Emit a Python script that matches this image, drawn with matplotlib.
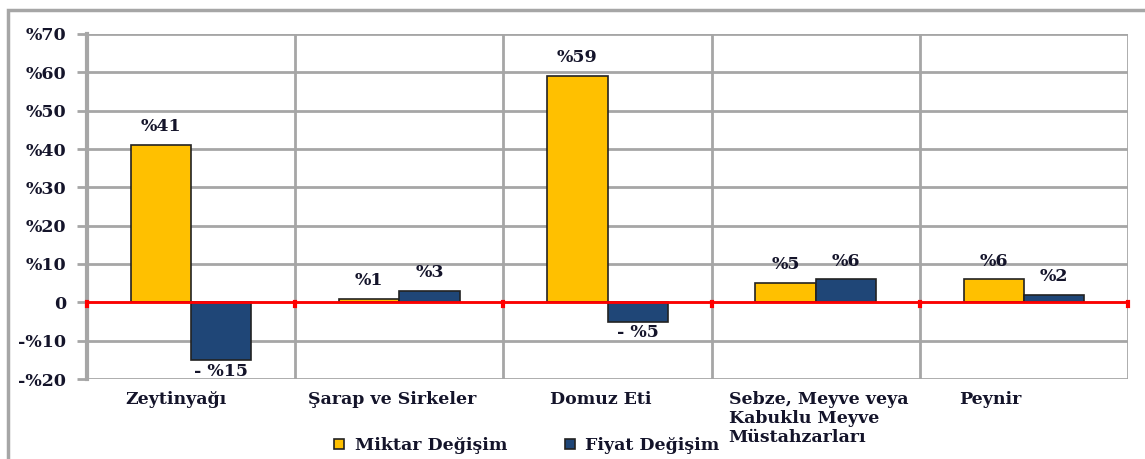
import matplotlib
matplotlib.use("Agg")
import matplotlib.pyplot as plt
from matplotlib.patches import Rectangle
import numpy as np

categories = ["Zeytinyağı", "Şarap ve Sirkeler", "Domuz Eti",
              "Sebze, Meyve veya\nKabuklu Meyve\nMüstahzarları", "Peynir"]
miktar = [41, 1, 59, 5, 6]
fiyat = [-15, 3, -5, 6, 2]
miktar_labels = ["%41", "%1", "%59", "%5", "%6"]
fiyat_labels = ["- %15", "%3", "- %5", "%6", "%2"]
yticks = [-20, -10, 0, 10, 20, 30, 40, 50, 60, 70]
ytick_labels = ["-%20", "-%10", "0", "%10", "%20", "%30", "%40", "%50", "%60", "%70"]
series_names = ["Miktar Değişim", "Fiyat Değişim"]

plt.rcParams['font.family'] = ['DejaVu Serif']
plt.rcParams['font.weight'] = 'bold'
txt = '#14142a'
grid = '#a6a6a6'
FS = 12.5

fig = plt.figure(figsize=(11.45, 4.59), dpi=100)
ax = fig.add_axes([87/1145, 1-379/459, (1128-87)/1145, (379-34)/459])

# outer frame
fig.patches.append(Rectangle((8/1145, -0.05), 1.2, 1-10/459+0.05, transform=fig.transFigure,
                             fill=False, edgecolor=grid, lw=2.5, clip_on=False))

x = np.arange(len(categories))
w = 0.29
b1 = ax.bar(x - w/2, miktar, w, color='#FFC000', edgecolor='#222222', lw=1.2, zorder=3,
            label=series_names[0])
b2 = ax.bar(x + w/2, fiyat, w, color='#1F4677', edgecolor='#222222', lw=1.2, zorder=3,
            label=series_names[1])

for i in range(len(categories)):
    for xv, v, lab in ((x[i] - w/2, miktar[i], miktar_labels[i]), (x[i] + w/2, fiyat[i], fiyat_labels[i])):
        if v >= 0:
            ax.annotate(lab, (xv, v), xytext=(0, 7), textcoords='offset points',
                        ha='center', va='bottom', fontsize=FS, color=txt, fontweight='bold')
        else:
            ax.annotate(lab, (xv, v), xytext=(0, -2), textcoords='offset points',
                        ha='center', va='top', fontsize=FS, color=txt, fontweight='bold')

ax.set_xlim(-0.5, len(categories) - 0.5)
ax.set_ylim(-20, 70)
ax.set_yticks(yticks)
ax.set_yticklabels(ytick_labels, fontsize=FS, color=txt, fontweight='bold')
ax.tick_params(axis='y', length=7, width=2, color=grid, pad=8)
ax.set_xticks(x)
ax.set_xticklabels([])
ax.tick_params(axis='x', length=0)
for xb in np.arange(-0.5, len(categories), 1.0):
    ax.axvline(xb, color=grid, lw=2, zorder=1)
for yv in yticks:
    ax.axhline(yv, color=grid, lw=2, zorder=1)
ax.axhline(0, color='#ff0000', lw=2, zorder=4)
for xb in np.arange(-0.5, len(categories), 1.0):
    ax.plot([xb, xb], [0, -0.9], color='#ff0000', lw=3, zorder=4, clip_on=False)

for s in ax.spines.values():
    s.set_visible(False)
ax.spines['left'].set_visible(True)
ax.spines['left'].set_color(grid)
ax.spines['left'].set_linewidth(3)

label_dx = [-11, -5, -5, 2, -24]  # points, horizontal nudge of category labels
for i, c in enumerate(categories):
    ax.annotate(c, (x[i], -20), xytext=(label_dx[i], -9), textcoords='offset points',
                ha='center', va='top', fontsize=FS, color=txt, fontweight='bold',
                multialignment='left', linespacing=1.15)

leg = fig.legend(handles=[b1, b2], labels=series_names, loc='center left',
                 bbox_to_anchor=(334/1145, 1 - 446/459), ncol=2, frameon=False,
                 fontsize=FS, handlelength=0.6, handleheight=0.5, handletextpad=0.6,
                 columnspacing=3.3, borderaxespad=0, borderpad=0)
for t in leg.get_texts():
    t.set_color(txt)

fig.savefig("out.png", dpi=100)
